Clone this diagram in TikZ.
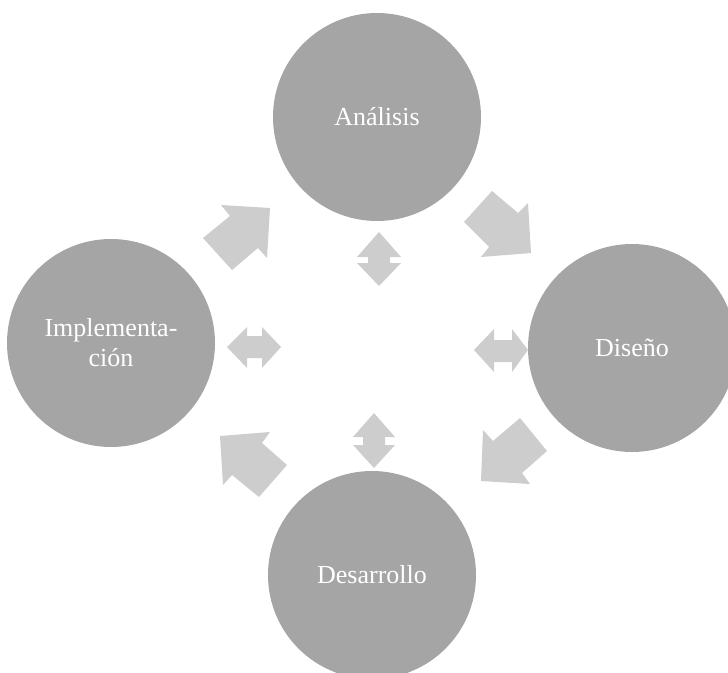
\documentclass[tikz,border=0pt]{standalone}
\usepackage{fontspec}
\setmainfont{Liberation Serif}
\begin{document}
\begin{tikzpicture}[x=1pt,y=-1pt,
  phase/.style={circle,fill=circlegray,minimum size=208pt,inner sep=0pt,text=white,
    font=\fontsize{26}{30}\selectfont,align=center},
  blockarrow/.style={fill=arrowgray,draw=none}]
\definecolor{circlegray}{HTML}{A5A5A5}
\definecolor{arrowgray}{HTML}{CDCDCD}
\useasboundingbox (0,0) rectangle (728,672);
\clip (0,0) rectangle (728,672);
% phases
\node[phase] (ana) at (377,117) {Análisis};
\node[phase] (dis) at (632,348) {Diseño};
\node[phase] (des) at (372,575) {Desarrollo};
\node[phase] (imp) at (111,343) {Implementa-\\ción};
% cycle arrows
\fill[blockarrow] (203,238) -- (230,216) -- (221,205) -- (270,208) -- (267,258) -- (258,248) -- (232,270) -- cycle;
\fill[blockarrow] (492,191) -- (518,213) -- (528,203) -- (531,253) -- (481,257) -- (489,247) -- (464,222) -- cycle;
\fill[blockarrow] (520,418) -- (547,451) -- (522,473) -- (530,484) -- (481,481) -- (483,430) -- (493,441) -- cycle;
\fill[blockarrow] (220,436) -- (270,432) -- (262,443) -- (287,465) -- (259,497) -- (232,475) -- (223,485) -- cycle;
% double arrows
\fill[blockarrow] (379,232) -- (401,257) -- (390,257) -- (390,263) -- (401,263) -- (379,286) -- (357,263) -- (368,263) -- (368,257) -- (357,257) -- cycle;
\fill[blockarrow] (374,413) -- (395,437) -- (385,437) -- (385,445) -- (395,445) -- (374,468) -- (353,445) -- (363,445) -- (363,437) -- (353,437) -- cycle;
\fill[blockarrow] (227,347) -- (247,327) -- (247,336) -- (262,336) -- (262,327) -- (281,347) -- (262,368) -- (262,358) -- (247,358) -- (247,368) -- cycle;
\fill[blockarrow] (474,350) -- (494,329) -- (494,340) -- (512,340) -- (512,329) -- (528,350) -- (512,372) -- (512,362) -- (494,362) -- (494,372) -- cycle;
\end{tikzpicture}
\end{document}
